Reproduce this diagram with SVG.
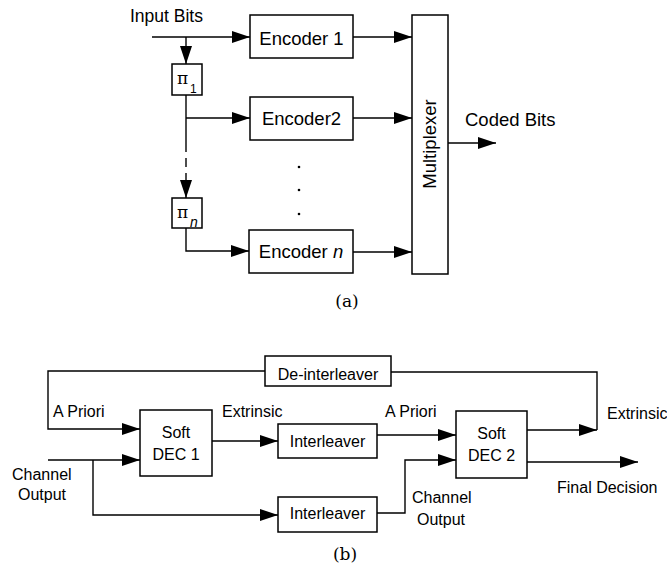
<svg xmlns="http://www.w3.org/2000/svg" width="667" height="567" viewBox="0 0 667 567">
<style>
.box{fill:#fff;stroke:#000;stroke-width:1.5}
.ln{fill:none;stroke:#000;stroke-width:1.4}
.arr{marker-end:url(#ah)}
.ta{font-family:"Liberation Sans",Arial,sans-serif;font-size:17.5px;fill:#000}
.te{font-family:"Liberation Sans",Arial,sans-serif;font-size:18.5px;fill:#000}
.tb{font-family:"Liberation Sans",Arial,sans-serif;font-size:16px;fill:#000}
.mid{text-anchor:middle}
.cap{font-family:"DejaVu Serif","Liberation Serif",serif;font-size:17px;fill:#000;text-anchor:middle}
.pi{font-family:"DejaVu Serif","Liberation Serif",serif;font-size:17px;fill:#000}
</style>
<defs>
<marker id="ah" markerUnits="userSpaceOnUse" markerWidth="19" markerHeight="13" refX="18" refY="6" orient="auto">
<path d="M0,0 L18,6 L0,12 z" fill="#000"/>
</marker>
</defs>
<rect width="667" height="567" fill="#fff"/>

<g id="connectors">
<path class="ln arr" d="M152,37 H250"/>
<path class="ln arr" d="M186,37 V64"/>
<path class="ln" d="M186,95 V152"/>
<path class="ln" d="M186,158 V167"/>
<path class="ln arr" d="M186,173 V198"/>
<path class="ln arr" d="M186,118 H250"/>
<path class="ln arr" d="M186,228 V251 H249"/>
<path class="ln arr" d="M353,37 H412"/>
<path class="ln arr" d="M353,118 H412"/>
<path class="ln arr" d="M353,252 H412"/>
<path class="ln arr" d="M448,143 H496"/>

<path class="ln arr" d="M265,371 H48 V429 H140"/>
<path class="ln arr" d="M212,441 H278"/>
<path class="ln arr" d="M48,460 H140"/>
<path class="ln arr" d="M93,460 V515 H278"/>
<path class="ln arr" d="M377,435 H456"/>
<path class="ln arr" d="M527,430 H597"/>
<path class="ln" d="M391,372 H597 V430"/>
<path class="ln arr" d="M527,462 H638"/>
<path class="ln arr" d="M377,513 H405 V460 H456"/>
</g>

<g id="labels-a">
<text class="ta" x="130" y="22">Input Bits</text>
<text class="te" x="465" y="126">Coded Bits</text>
<circle cx="299" cy="167" r="1.3" fill="#000"/>
<circle cx="299" cy="190" r="1.3" fill="#000"/>
<circle cx="299" cy="214" r="1.3" fill="#000"/>
<text class="cap" x="347" y="307">(a)</text>
</g>

<g id="pi1">
<rect class="box" x="172" y="64" width="30" height="31"/>
<text class="pi" x="177" y="84">π</text>
<text class="tb" x="190" y="93" style="font-size:12px">1</text>
</g>
<g id="pin">
<rect class="box" x="172" y="198" width="30" height="30"/>
<text class="pi" x="177" y="218">π</text>
<text class="tb" x="190" y="227" style="font-size:14px;font-style:italic">n</text>
</g>
<g id="enc1">
<rect class="box" x="250" y="15" width="103" height="43"/>
<text class="te mid" x="301.5" y="45">Encoder 1</text>
</g>
<g id="enc2">
<rect class="box" x="250" y="97" width="103" height="43"/>
<text class="te mid" x="301.5" y="125">Encoder2</text>
</g>
<g id="encn">
<rect class="box" x="249" y="230" width="104" height="43"/>
<text class="te mid" x="301" y="258">Encoder <tspan font-style="italic">n</tspan></text>
</g>
<g id="mux">
<rect class="box" x="412" y="15" width="36" height="259"/>
<text class="te mid" transform="translate(436,144) rotate(-90)">Multiplexer</text>
</g>

<g id="deint">
<rect class="box" x="265" y="356" width="126" height="30"/>
<text class="tb mid" x="328" y="380">De-interleaver</text>
</g>
<g id="dec1">
<rect class="box" x="140" y="410" width="72" height="66"/>
<text class="tb mid" x="176" y="438">Soft</text>
<text class="tb mid" x="176" y="460">DEC 1</text>
</g>
<g id="int1">
<rect class="box" x="278" y="424" width="99" height="34"/>
<text class="tb mid" x="327.5" y="447">Interleaver</text>
</g>
<g id="int2">
<rect class="box" x="278" y="497" width="99" height="35"/>
<text class="tb mid" x="327.5" y="519">Interleaver</text>
</g>
<g id="dec2">
<rect class="box" x="456" y="411" width="71" height="67"/>
<text class="tb mid" x="491.5" y="439">Soft</text>
<text class="tb mid" x="491.5" y="461">DEC 2</text>
</g>

<g id="labels-b">
<text class="tb" x="53" y="417">A Priori</text>
<text class="tb" x="222" y="417">Extrinsic</text>
<text class="tb" x="385" y="417">A Priori</text>
<text class="tb" x="607" y="419">Extrinsic</text>
<text class="tb" x="12" y="480">Channel</text>
<text class="tb" x="18" y="500">Output</text>
<text class="tb" x="412" y="503">Channel</text>
<text class="tb" x="417" y="525">Output</text>
<text class="tb" x="557" y="493">Final Decision</text>
<text class="cap" x="345" y="560">(b)</text>
</g>
</svg>
